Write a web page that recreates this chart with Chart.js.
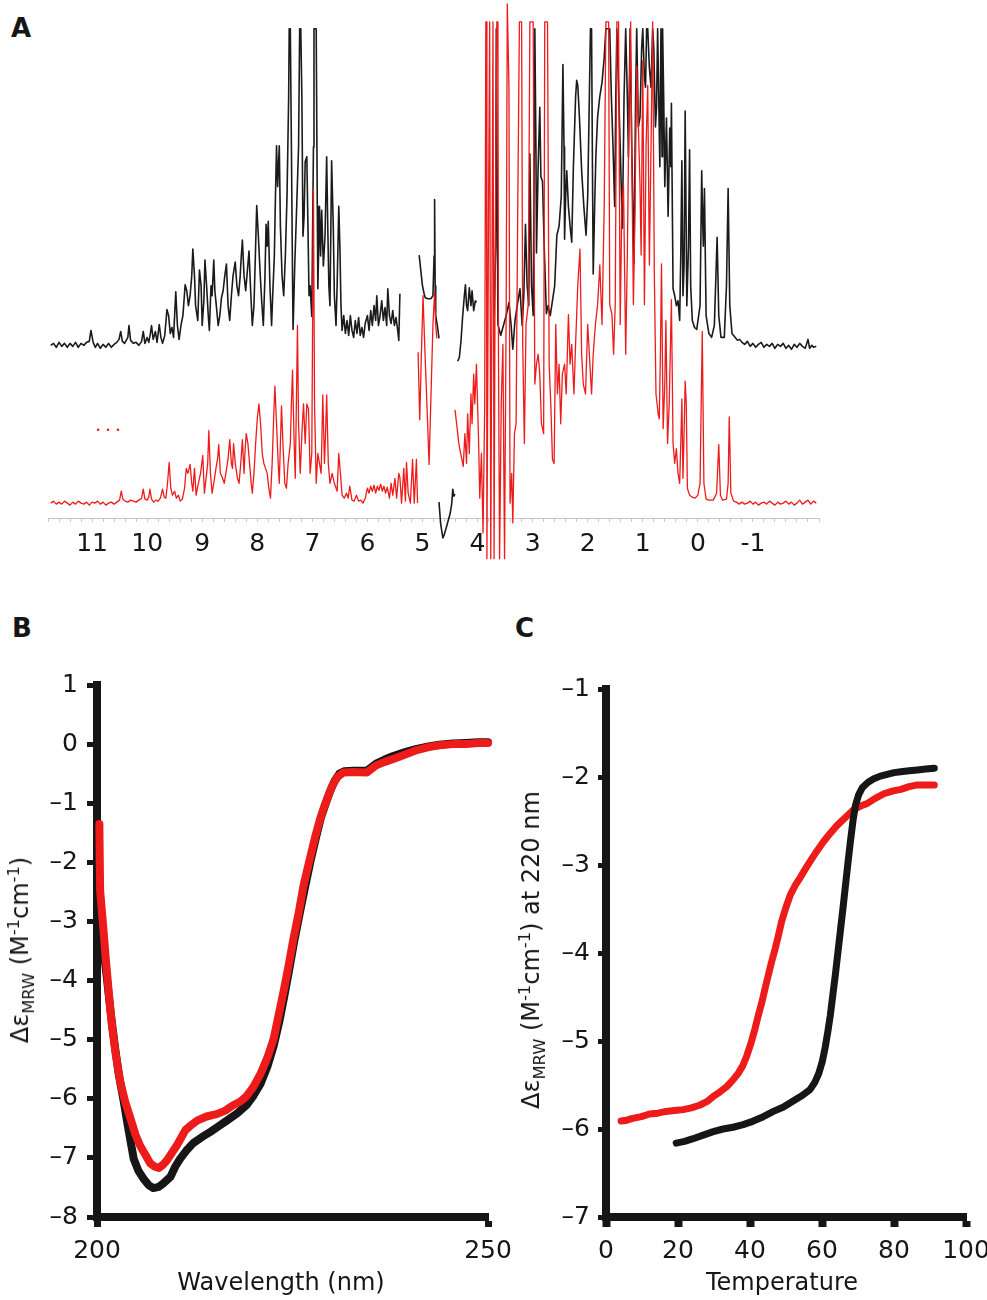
<!DOCTYPE html>
<html><head><meta charset="utf-8">
<script src="https://cdn.jsdelivr.net/npm/chart.js@4.4.1/dist/chart.umd.min.js"></script>
<style>
html,body{margin:0;padding:0;background:#fff;overflow:hidden;}
body{width:987px;height:1300px;position:relative;}
canvas{position:absolute;}
.lbl{position:absolute;font-family:"DejaVu Sans",sans-serif;font-weight:bold;font-size:26px;color:#161616;line-height:1;}
.tt{position:absolute;font-family:"DejaVu Sans",sans-serif;font-size:24px;color:#161616;white-space:nowrap;line-height:1;}
.rot{transform:translate(-50%,-50%) rotate(-90deg);}
.ctr{transform:translate(-50%,-50%);}
sub,sup{font-size:68%;line-height:0;}
</style></head><body>
<div class="lbl" style="left:11px;top:15px">A</div>
<div class="lbl" style="left:12px;top:615px">B</div>
<div class="lbl" style="left:515px;top:615px">C</div>
<canvas id="cA" width="987" height="580" style="left:0;top:0"></canvas>
<canvas id="cB" width="525" height="700" style="left:0;top:600px"></canvas>
<canvas id="cC" width="510" height="700" style="left:500px;top:600px"></canvas>
<div class="tt rot" style="left:20px;top:950px">Δε<sub>MRW</sub> (M<sup>-1</sup>cm<sup>-1</sup>)</div>
<div class="tt rot" style="left:531px;top:950px">Δε<sub>MRW</sub> (M<sup>-1</sup>cm<sup>-1</sup>) at 220 nm</div>
<div class="tt ctr" style="left:281px;top:1282px">Wavelength (nm)</div>
<div class="tt ctr" style="left:782px;top:1282px">Temperature</div>
<script>
// ---------- Panel A: 1H NMR spectra (ppm, intensity a.u.) ----------
const ppmLabels = ['11','10','9','8','7','6','5','4','3','2','1','0','-1'];

const nmrBlack = [
[11.75,0],[11.7,2],[11.65,-2],[11.6,3],[11.55,-1],[11.5,2],[11.45,-2],[11.4,2],[11.35,-1],[11.3,3],
[11.25,-2],[11.2,2],[11.15,0],[11.1,3],[11.05,4],[11.02,15],[10.98,3],[10.94,-2],[10.9,2],[10.85,-3],
[10.8,1],[10.75,-2],[10.7,2],[10.65,-2],[10.6,1],[10.55,3],[10.51,6],[10.48,14],[10.45,4],[10.41,2],
[10.38,5],[10.35,8],[10.33,20],[10.3,5],[10.25,2],[10.2,3],[10.15,0],[10.1,4],[10.07,14],[10.04,2],
[10.0,8],[9.97,3],[9.94,12],[9.92,20],[9.89,6],[9.85,14],[9.82,3],[9.78,21],[9.75,8],[9.72,2],
[9.68,10],[9.64,36],[9.61,30],[9.58,12],[9.55,18],[9.52,8],[9.48,54],[9.45,20],[9.42,6],[9.38,22],
[9.35,30],[9.31,61],[9.28,55],[9.25,40],[9.22,50],[9.19,70],[9.17,97],[9.14,70],[9.12,40],[9.08,25],
[9.05,76],[9.02,60],[9.0,20],[8.97,45],[8.95,86],[8.92,60],[8.89,30],[8.87,15],[8.84,60],[8.82,50],
[8.79,86],[8.77,55],[8.74,38],[8.71,20],[8.68,30],[8.65,48],[8.62,55],[8.59,70],[8.56,82],[8.53,40],
[8.5,25],[8.47,50],[8.44,70],[8.4,84],[8.37,60],[8.34,50],[8.31,70],[8.29,90],[8.27,106],[8.24,70],
[8.21,55],[8.18,75],[8.15,95],[8.12,55],[8.09,20],[8.06,40],[8.03,100],[8.01,141],[7.98,110],[7.95,75],
[7.92,45],[7.89,20],[7.86,70],[7.84,122],[7.82,100],[7.8,125],[7.77,60],[7.74,20],[7.72,50],[7.69,90],
[7.67,150],[7.65,201],[7.63,160],[7.6,201],[7.58,120],[7.55,70],[7.52,50],[7.49,90],[7.46,150],[7.43,250],
[7.42,319],[7.4,319],[7.38,200],[7.36,70],[7.35,16],[7.32,80],[7.29,130],[7.25,200],[7.23,319],[7.21,319],
[7.19,250],[7.17,110],[7.15,130],[7.13,185],[7.1,190],[7.08,120],[7.06,50],[7.04,60],[7.01,29],[6.98,200],
[6.97,319],[6.93,319],[6.91,140],[6.9,57],[6.87,140],[6.85,90],[6.83,136],[6.8,80],[6.77,110],[6.74,190],
[6.72,120],[6.7,60],[6.68,40],[6.65,186],[6.62,120],[6.6,50],[6.57,20],[6.55,60],[6.52,140],[6.5,100],
[6.48,40],[6.46,15],[6.43,30],[6.4,12],[6.37,25],[6.34,10],[6.31,30],[6.28,15],[6.25,8],[6.22,25],
[6.19,12],[6.16,28],[6.13,10],[6.1,18],[6.07,8],[6.04,22],[6.0,30],[5.97,15],[5.94,35],[5.91,20],
[5.88,40],[5.85,25],[5.83,50],[5.8,20],[5.77,30],[5.74,45],[5.71,25],[5.68,38],[5.65,20],[5.63,57],
[5.6,30],[5.57,22],[5.54,35],[5.51,20],[5.48,28],[5.45,15],[5.43,5],[5.41,52],[5.4,null],
[5.06,91],[5.03,75],[5.0,60],[4.97,52],[4.95,48],[4.9,47],[4.85,47],[4.81,50],[4.79,90],[4.78,147],
[4.77,60],[4.76,30],[4.73,20],[4.7,7],[4.705,null],
[4.7,-158],[4.67,-180],[4.63,-194],[4.6,-190],[4.55,-180],[4.5,-170],[4.47,-160],[4.45,-145],[4.43,-152],[4.41,-150],[4.4,null],
[4.36,-16],[4.33,-12],[4.3,5],[4.27,30],[4.24,50],[4.22,61],[4.2,40],[4.18,35],[4.15,58],[4.12,40],
[4.1,55],[4.07,35],[4.04,45],[4.02,43],[3.9,null],
[3.7,30],[3.67,100],[3.66,319],[3.65,319],[3.63,21],[3.58,10],[3.53,20],[3.48,30],[3.43,43],[3.39,20],
[3.36,-4],[3.32,25],[3.28,40],[3.23,57],[3.19,20],[3.16,50],[3.13,122],[3.1,60],[3.07,40],[3.05,193],
[3.02,60],[2.99,30],[2.97,200],[2.96,319],[2.94,200],[2.93,93],[2.9,180],[2.87,240],[2.85,170],[2.82,165],
[2.79,100],[2.75,32],[2.72,40],[2.68,30],[2.64,45],[2.6,60],[2.56,111],[2.52,120],[2.48,150],[2.45,283],
[2.43,200],[2.42,107],[2.4,150],[2.38,176],[2.35,140],[2.32,120],[2.29,104],[2.26,180],[2.22,250],[2.2,267],
[2.18,262],[2.15,230],[2.11,176],[2.07,140],[2.03,111],[2.0,150],[1.97,250],[1.95,319],[1.93,319],[1.91,150],
[1.9,72],[1.87,150],[1.85,193],[1.82,230],[1.78,251],[1.74,265],[1.7,290],[1.67,319],[1.63,319],[1.6,319],
[1.57,250],[1.54,200],[1.51,140],[1.49,250],[1.47,319],[1.44,260],[1.4,180],[1.37,118],[1.34,250],[1.31,319],
[1.28,250],[1.26,190],[1.23,319],[1.2,200],[1.16,82],[1.13,250],[1.11,319],[1.08,220],[1.05,230],[1.02,300],
[1.0,319],[0.97,270],[0.95,260],[0.93,319],[0.91,319],[0.88,280],[0.85,260],[0.82,319],[0.8,300],[0.77,220],
[0.75,240],[0.73,319],[0.71,250],[0.69,180],[0.67,319],[0.65,190],[0.64,319],[0.62,250],[0.6,160],[0.57,229],
[0.54,130],[0.51,219],[0.49,180],[0.48,244],[0.46,120],[0.45,57],[0.42,50],[0.39,40],[0.36,45],[0.33,25],
[0.31,90],[0.29,186],[0.27,50],[0.25,80],[0.23,236],[0.2,40],[0.17,100],[0.15,197],[0.13,60],[0.1,25],
[0.06,18],[0.02,16],[-0.04,40],[-0.07,176],[-0.09,120],[-0.1,100],[-0.12,158],[-0.15,30],[-0.2,12],[-0.25,8],
[-0.3,20],[-0.35,109],[-0.38,30],[-0.42,8],[-0.48,8],[-0.52,60],[-0.55,158],[-0.58,40],[-0.62,12],[-0.68,8],
[-0.72,5],[-0.76,6],[-0.8,3],[-0.85,1],[-0.9,4],[-0.95,-1],[-1.0,2],[-1.05,-2],[-1.1,1],[-1.15,3],
[-1.2,-2],[-1.25,1],[-1.3,-1],[-1.35,2],[-1.4,-3],[-1.45,1],[-1.5,-1],[-1.55,2],[-1.6,-3],[-1.65,0],
[-1.7,-4],[-1.75,1],[-1.8,-2],[-1.85,2],[-1.9,-1],[-1.95,-3],[-2.0,6],[-2.03,-3],[-2.07,0],[-2.1,-2],[-2.15,-1]
];

const nmrRed = [
[11.75,0],[11.7,2],[11.65,-1],[11.6,1],[11.55,-1],[11.5,2],[11.45,0],[11.4,-2],[11.35,1],[11.3,-1],
[11.25,2],[11.2,0],[11.15,-1],[11.1,1],[11.05,-2],[11.0,1],[10.95,0],[10.9,2],[10.85,-1],[10.8,1],
[10.75,-2],[10.7,0],[10.65,1],[10.6,-1],[10.55,1],[10.5,3],[10.47,12],[10.44,4],[10.4,2],[10.35,1],
[10.3,3],[10.25,2],[10.2,1],[10.15,3],[10.1,5],[10.07,14],[10.04,4],[10.0,3],[9.97,6],[9.95,14],
[9.92,4],[9.88,1],[9.84,3],[9.8,2],[9.76,5],[9.72,14],[9.69,6],[9.66,5],[9.63,20],[9.6,41],
[9.57,15],[9.54,8],[9.5,12],[9.47,5],[9.43,8],[9.4,2],[9.36,4],[9.32,15],[9.29,35],[9.26,30],
[9.22,39],[9.19,20],[9.17,12],[9.14,35],[9.11,8],[9.07,20],[9.03,30],[8.99,48],[8.96,10],[8.93,25],
[8.9,40],[8.88,73],[8.85,30],[8.82,10],[8.79,20],[8.75,35],[8.72,45],[8.7,59],[8.67,30],[8.63,25],
[8.6,20],[8.57,30],[8.53,45],[8.5,64],[8.47,40],[8.45,35],[8.43,60],[8.4,40],[8.36,25],[8.33,20],
[8.3,40],[8.27,64],[8.24,30],[8.22,55],[8.2,70],[8.17,60],[8.14,40],[8.11,20],[8.09,10],[8.06,30],
[8.03,60],[8.0,85],[7.97,100],[7.94,80],[7.91,50],[7.88,40],[7.85,35],[7.82,30],[7.79,15],[7.76,5],
[7.73,40],[7.7,90],[7.68,118],[7.65,80],[7.62,40],[7.6,20],[7.58,60],[7.56,98],[7.53,55],[7.5,20],
[7.47,15],[7.44,40],[7.4,60],[7.38,100],[7.36,134],[7.33,60],[7.31,25],[7.29,100],[7.27,179],[7.25,80],
[7.22,30],[7.19,70],[7.16,100],[7.13,60],[7.1,100],[7.07,95],[7.04,30],[7.01,50],[6.98,317],[6.96,100],
[6.93,20],[6.9,50],[6.87,40],[6.84,30],[6.81,109],[6.78,40],[6.76,70],[6.74,109],[6.71,40],[6.68,20],
[6.64,30],[6.6,20],[6.55,12],[6.52,50],[6.49,30],[6.46,8],[6.42,5],[6.38,10],[6.35,5],[6.32,17],
[6.28,3],[6.24,2],[6.2,8],[6.16,2],[6.12,3],[6.08,0],[6.04,5],[6.0,15],[5.97,10],[5.94,17],
[5.91,12],[5.88,18],[5.85,10],[5.82,17],[5.79,13],[5.76,19],[5.73,12],[5.7,17],[5.67,10],[5.64,16],
[5.6,5],[5.57,20],[5.54,8],[5.5,25],[5.47,5],[5.43,30],[5.41,26],[5.38,0],[5.34,35],[5.31,2],
[5.29,41],[5.26,10],[5.22,0],[5.18,44],[5.15,0],[5.11,44],[5.09,0],[5.085,null],
[5.08,152],[5.05,84],[5.02,150],[4.99,209],[4.96,160],[4.92,100],[4.88,39],[4.85,100],[4.81,180],[4.78,213],
[4.76,180],[4.74,166],[4.6,null],
[4.41,94],[4.38,80],[4.34,60],[4.3,48],[4.26,37],[4.23,70],[4.2,40],[4.18,90],[4.15,50],[4.12,110],
[4.1,80],[4.07,130],[4.05,100],[4.02,140],[3.98,60],[3.96,5],[3.93,50],[3.9,-30],[3.87,100],[3.85,485],
[3.84,485],[3.83,-56],[3.8,300],[3.78,485],[3.76,-56],[3.74,200],[3.72,485],[3.7,-56],[3.68,250],[3.65,485],
[3.63,485],[3.62,150],[3.6,-56],[3.57,100],[3.54,160],[3.51,-56],[3.48,200],[3.46,503],[3.45,503],[3.43,420],
[3.41,0],[3.38,30],[3.36,-20],[3.33,70],[3.3,80],[3.27,300],[3.24,485],[3.2,485],[3.18,160],[3.15,60],
[3.12,180],[3.08,200],[3.05,485],[3.02,485],[2.99,485],[2.96,120],[2.93,140],[2.9,150],[2.87,130],[2.84,80],
[2.8,70],[2.78,485],[2.75,485],[2.73,485],[2.7,140],[2.67,100],[2.64,44],[2.61,40],[2.58,180],[2.55,110],
[2.52,140],[2.49,80],[2.46,130],[2.42,140],[2.39,110],[2.35,190],[2.32,140],[2.29,160],[2.25,110],[2.22,160],
[2.18,220],[2.14,256],[2.11,150],[2.08,120],[2.04,110],[2.0,180],[1.97,150],[1.93,110],[1.9,150],[1.86,180],
[1.82,200],[1.78,240],[1.74,180],[1.7,300],[1.67,485],[1.65,485],[1.62,485],[1.6,200],[1.56,190],[1.53,150],
[1.5,200],[1.47,485],[1.44,485],[1.41,180],[1.38,300],[1.35,320],[1.31,150],[1.28,250],[1.25,400],[1.22,485],
[1.2,350],[1.17,200],[1.14,300],[1.11,440],[1.08,380],[1.05,320],[1.03,250],[1.0,446],[0.97,200],[0.94,360],
[0.91,421],[0.88,240],[0.85,360],[0.82,485],[0.79,230],[0.76,110],[0.72,90],[0.7,85],[0.68,150],[0.66,241],
[0.63,75],[0.6,120],[0.58,184],[0.55,60],[0.52,100],[0.48,205],[0.45,60],[0.42,40],[0.39,55],[0.36,30],
[0.33,20],[0.31,60],[0.29,105],[0.27,25],[0.25,70],[0.23,123],[0.21,100],[0.19,15],[0.15,8],[0.1,6],
[0.05,5],[0.0,8],[-0.04,20],[-0.08,173],[-0.11,20],[-0.15,4],[-0.2,3],[-0.28,3],[-0.34,10],[-0.38,59],
[-0.41,8],[-0.45,3],[-0.52,4],[-0.55,20],[-0.57,87],[-0.6,10],[-0.65,2],[-0.7,1],[-0.75,-1],[-0.8,1],
[-0.85,-1],[-0.9,0],[-0.95,2],[-1.0,-1],[-1.05,1],[-1.1,-2],[-1.15,0],[-1.2,1],[-1.25,-1],[-1.3,2],
[-1.35,0],[-1.4,-2],[-1.45,1],[-1.5,-1],[-1.55,0],[-1.6,2],[-1.65,-1],[-1.7,1],[-1.75,-2],[-1.8,0],
[-1.85,3],[-1.9,-1],[-1.95,1],[-2.0,3],[-2.05,-1],[-2.1,2],[-2.15,0]
];
const nmrRedDots = [[10.89,74],[10.71,74],[10.53,74]];

// ---------- Panel B: CD spectra (nm, Δε) ----------
const cdRed = [
[200.3,-1.35],[200.4,-2.48],[200.8,-3.1],[201.1,-3.6],[201.5,-4.2],[201.9,-4.75],[202.4,-5.25],[203.0,-5.73],[203.6,-6.05],[204.3,-6.34],
[204.9,-6.6],[205.5,-6.79],[206.2,-6.95],[206.8,-7.09],[207.4,-7.15],[207.9,-7.17],[208.4,-7.12],[208.9,-7.05],[209.5,-6.93],[210.2,-6.79],
[210.8,-6.65],[211.3,-6.53],[212.0,-6.45],[212.8,-6.37],[214.0,-6.3],[215.3,-6.26],[216.4,-6.2],[217.4,-6.11],[218.3,-6.05],[219.1,-5.96],
[220.0,-5.8],[220.9,-5.58],[221.8,-5.3],[222.6,-4.98],[223.2,-4.6],[223.8,-4.22],[224.5,-3.75],[225.1,-3.31],[225.8,-2.85],[226.4,-2.4],
[227.2,-1.95],[227.9,-1.57],[228.5,-1.28],[229.1,-1.04],[229.7,-0.83],[230.2,-0.67],[230.8,-0.55],[231.5,-0.48],[232.8,-0.47],[234.5,-0.48],
[235.7,-0.36],[236.8,-0.3],[237.9,-0.25],[239.5,-0.17],[240.9,-0.1],[242.4,-0.05],[243.8,-0.02],[245.5,0.0],[247.2,0.0],[248.7,0.02],[250.0,0.02]
];
const cdBlack = [
[200.2,-2.3],[200.6,-3.2],[201.3,-4.0],[201.8,-4.6],[202.3,-5.13],[202.8,-5.6],[203.4,-6.03],[204.0,-6.5],[204.7,-7.02],[205.3,-7.22],
[206.0,-7.36],[206.6,-7.46],[207.2,-7.51],[207.9,-7.49],[208.5,-7.43],[209.4,-7.32],[210.0,-7.15],[210.6,-7.02],[211.4,-6.88],[212.3,-6.75],
[213.4,-6.65],[214.5,-6.56],[215.5,-6.47],[216.6,-6.37],[217.9,-6.25],[219.1,-6.11],[220.0,-5.95],[220.9,-5.75],[221.8,-5.45],[222.6,-5.1],
[223.3,-4.7],[223.9,-4.3],[224.6,-3.8],[225.2,-3.35],[225.9,-2.88],[226.6,-2.42],[227.3,-1.98],[228.0,-1.58],[228.6,-1.26],[229.2,-1.02],
[229.8,-0.8],[230.4,-0.62],[231.0,-0.5],[231.6,-0.46],[232.8,-0.45],[234.5,-0.45],[235.7,-0.33],[236.8,-0.26],[237.9,-0.2],[239.5,-0.13],
[240.9,-0.08],[242.4,-0.04],[243.8,-0.01],[245.5,0.01],[247.2,0.02],[248.7,0.03],[250.0,0.03]
];

// ---------- Panel C: thermal melts at 220 nm (°C, Δε) ----------
const meltRed = [
[4.2,-5.91],[5.8,-5.9],[7.4,-5.88],[9.8,-5.86],[12.1,-5.83],[14.4,-5.82],[16.7,-5.8],[19.0,-5.79],[21.4,-5.78],[23.7,-5.76],
[26.0,-5.73],[28.0,-5.69],[29.8,-5.63],[31.6,-5.58],[33.5,-5.52],[35.1,-5.45],[36.7,-5.37],[38.0,-5.28],[39.1,-5.17],[40.3,-5.02],
[41.4,-4.86],[42.3,-4.71],[43.3,-4.56],[44.2,-4.4],[45.1,-4.25],[46.0,-4.1],[47.0,-3.95],[47.9,-3.8],[48.8,-3.64],[50.0,-3.48],
[51.2,-3.34],[52.6,-3.23],[54.0,-3.14],[55.3,-3.05],[56.7,-2.96],[58.6,-2.84],[60.5,-2.73],[62.3,-2.64],[64.2,-2.55],[66.5,-2.46],
[68.8,-2.37],[70.7,-2.33],[72.6,-2.3],[74.9,-2.24],[77.2,-2.19],[79.5,-2.16],[81.9,-2.14],[84.2,-2.11],[86.5,-2.09],[88.8,-2.09],[91.2,-2.09]
];
const meltBlack = [
[19.5,-6.16],[21.8,-6.14],[24.2,-6.11],[27.0,-6.07],[29.8,-6.03],[32.5,-6.0],[35.3,-5.98],[38.1,-5.95],[40.9,-5.91],[43.7,-5.86],
[46.5,-5.8],[49.3,-5.75],[52.1,-5.68],[54.5,-5.62],[56.7,-5.55],[58.0,-5.47],[59.1,-5.37],[60.1,-5.23],[60.9,-5.07],[61.6,-4.9],
[62.3,-4.71],[63.0,-4.48],[63.7,-4.25],[64.4,-4.0],[65.1,-3.75],[65.8,-3.5],[66.5,-3.24],[67.2,-2.98],[67.9,-2.73],[68.6,-2.5],
[69.3,-2.32],[70.2,-2.2],[71.2,-2.12],[72.8,-2.06],[74.4,-2.02],[76.2,-1.99],[78.1,-1.97],[80.0,-1.95],[81.9,-1.94],[84.2,-1.93],
[86.5,-1.92],[88.8,-1.91],[91.2,-1.9]
];

// ---------- styling ----------
const INK = '#161616';
const RED = '#ee1b1b';
const tickFont = {family: 'DejaVu Sans', size: 25};
const dashLabel = v => (v < 0 ? '\u2013' + Math.abs(v) : String(v));
const base = {
  responsive: false, animation: false, events: [],
  plugins: {legend: {display: false}, tooltip: {enabled: false}}
};

// Panel A
new Chart(document.getElementById('cA'), {
  type: 'line',
  data: {datasets: [
    {type: 'scatter', data: nmrRedDots, yAxisID: 'yr', showLine: false, pointRadius: 1.3,
     pointBackgroundColor: RED, pointBorderWidth: 0, clip: false},
    {data: nmrRed, yAxisID: 'yr', borderColor: RED, borderWidth: 1.3, pointRadius: 0,
     borderJoinStyle: 'round', clip: false, spanGaps: false},
    {data: nmrBlack, yAxisID: 'y', borderColor: '#1b1b1b', borderWidth: 1.6, pointRadius: 0,
     borderJoinStyle: 'round', clip: false, spanGaps: false}
  ]},
  options: Object.assign({}, base, {
    layout: {padding: {left: 48, right: 168, top: 0, bottom: 0}},
    scales: {
      x: {type: 'linear', reverse: true, min: -2.2, max: 11.8,
          afterFit: s => { s.height = 62; },
          border: {display: true, color: '#c6c6c6', width: 1},
          grid: {display: true, drawOnChartArea: false, drawTicks: true, tickLength: 4, color: '#c6c6c6', lineWidth: 1},
          ticks: {stepSize: 0.2, autoSkip: false, maxRotation: 0, minRotation: 0, padding: 7,
                  color: INK, font: tickFont,
                  callback: v => {
                    const r = Math.round(v);
                    if (Math.abs(v - r) > 1e-6) return '';
                    const s = String(r === 0 ? 0 : r);
                    return ppmLabels.includes(s) ? s : '';
                  }}},
      y: {display: false, min: -174, max: 344},
      yr: {display: false, min: -15, max: 503, position: 'left'}
    }
  })
});

function axisSet(xmin, xmax, xstep, ymin, ymax, yw, xTick, yTick, yPad) {
  return {
    x: {type: 'linear', min: xmin, max: xmax,
        afterFit: s => { s.height = 83; },
        border: {display: true, color: INK, width: 8},
        grid: {display: true, drawOnChartArea: false, drawTicks: true, tickLength: 10, tickWidth: xTick, tickColor: INK},
        ticks: {stepSize: xstep, autoSkip: false, maxRotation: 0, padding: 9, color: INK, font: tickFont}},
    y: {min: ymin, max: ymax,
        afterFit: s => { s.width = yw; },
        border: {display: true, color: INK, width: 8},
        grid: {display: true, drawOnChartArea: false, drawTicks: true, tickLength: yTick, tickWidth: 5, tickColor: INK},
        ticks: {stepSize: 1, autoSkip: false, padding: yPad, color: INK, font: tickFont, callback: dashLabel}}
  };
}

// Panel B
new Chart(document.getElementById('cB'), {
  type: 'line',
  data: {datasets: [
    {data: cdRed, borderColor: RED, borderWidth: 8, pointRadius: 0, borderJoinStyle: 'round', borderCapStyle: 'round', clip: false},
    {data: cdBlack, borderColor: INK, borderWidth: 8, pointRadius: 0, borderJoinStyle: 'round', borderCapStyle: 'round', clip: false}
  ]},
  options: Object.assign({}, base, {
    layout: {padding: {left: 0, right: 37, top: 85, bottom: 0}},
    scales: axisSet(200, 250, 50, -8, 1, 97, 7, 10, 9)
  })
});

// Panel C
new Chart(document.getElementById('cC'), {
  type: 'line',
  data: {datasets: [
    {data: meltBlack, borderColor: INK, borderWidth: 7, pointRadius: 0, borderJoinStyle: 'round', borderCapStyle: 'round', clip: false},
    {data: meltRed, borderColor: RED, borderWidth: 7, pointRadius: 0, borderJoinStyle: 'round', borderCapStyle: 'round', clip: false}
  ]},
  options: Object.assign({}, base, {
    layout: {padding: {left: 0, right: 44, top: 89, bottom: 0}},
    scales: axisSet(0, 100, 20, -7, -1, 106, 8, 8, 8)
  })
});
</script>
</body></html>
